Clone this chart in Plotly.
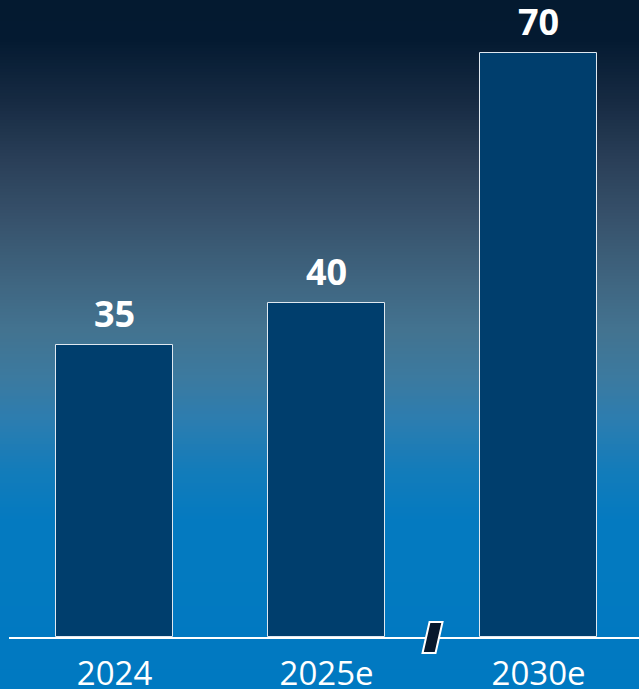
import plotly.graph_objects as go

years = ["2024", "2025e", "2030e"]
values = [35, 40, 70]

# background gradient stops: (pixel from top, colour)
bg_stops = [
    (0, "#041a30"), (40, "#041a31"), (100, "#162a42"), (160, "#2a3f58"),
    (220, "#37526c"), (280, "#3f6580"), (330, "#437390"), (380, "#3b7aa0"),
    (420, "#2c7db0"), (470, "#137cba"), (520, "#047ac0"), (689, "#0079c1"),
]

W, H = 639, 689
PLOT_BOTTOM = 637
X_RANGE = [-0.498, 2.474]


def hex_rgb(h):
    h = h.lstrip("#")
    return [int(h[i:i + 2], 16) for i in (0, 2, 4)]


def colour_at(p):
    for (p0, c0), (p1, c1) in zip(bg_stops, bg_stops[1:]):
        if p0 <= p <= p1:
            t = (p - p0) / (p1 - p0) if p1 > p0 else 0
            a, b = hex_rgb(c0), hex_rgb(c1)
            return "rgb(%d,%d,%d)" % tuple(round(a[i] + (b[i] - a[i]) * t) for i in range(3))
    return bg_stops[-1][1]


# each band runs to the bottom of the page so no seams show between bands
shapes = []
step = 3
for p in range(0, H, step):
    shapes.append(dict(
        type="rect", xref="paper", yref="paper", layer="below",
        x0=-0.05, x1=1.05,
        y0=(PLOT_BOTTOM - H - 5) / PLOT_BOTTOM,
        y1=(PLOT_BOTTOM - p) / PLOT_BOTTOM,
        fillcolor=colour_at(p + step / 2), line=dict(width=0),
    ))

# axis break mark between 2025e and 2030e
break_x = (1.5 - X_RANGE[0]) / (X_RANGE[1] - X_RANGE[0])
shapes.append(dict(
    type="path", xref="paper", yref="paper", xsizemode="pixel", ysizemode="pixel",
    xanchor=break_x, yanchor=0,
    path="M -3,15 L 10,15 L 3,-16 L -10,-16 Z",
    fillcolor="#07182d", line=dict(color="white", width=2), layer="above",
))

fig = go.Figure(go.Bar(
    x=years, y=values,
    width=0.552,
    marker=dict(color="#003e6d", line=dict(color="#dfe8f0", width=1)),
    hoverinfo="skip",
))

for i, v in enumerate(values):
    fig.add_annotation(
        x=i, y=v, text="<b>%d</b>" % v, showarrow=False,
        yanchor="bottom", yshift=5,
        font=dict(family="Open Sans", size=36, color="white"),
    )

fig.update_layout(
    width=W, height=H,
    margin=dict(l=9, r=0, t=0, b=H - PLOT_BOTTOM, autoexpand=False),
    paper_bgcolor="#0079c1", plot_bgcolor="rgba(0,0,0,0)",
    shapes=shapes, showlegend=False,
    bargap=0,
    xaxis=dict(
        type="category", automargin=False,
        range=X_RANGE, showgrid=False, zeroline=False,
        showline=True, linecolor="white", linewidth=2,
        ticks="", ticklabelstandoff=6,
        tickfont=dict(family="Open Sans", size=33, color="white"),
    ),
    yaxis=dict(range=[0, 76.3], visible=False, fixedrange=True, automargin=False),
)

fig.write_html("out.html", config={"displayModeBar": False},
               post_script="document.body.style.margin='0';")
